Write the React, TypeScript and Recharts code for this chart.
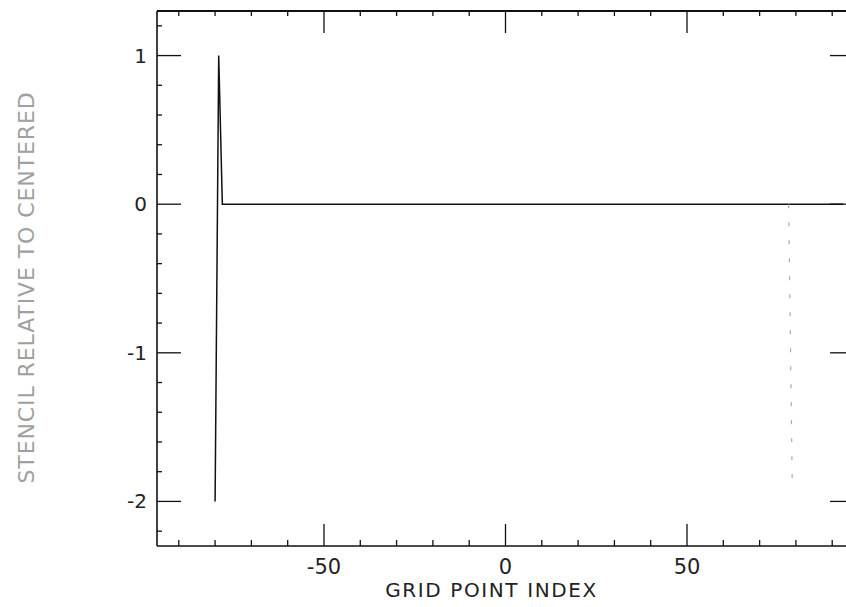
import { LineChart, Line, XAxis, YAxis, Label } from "recharts";

// grid point index vs stencil value (relative to centered)
const stencilIndex = [-80, -79, -78, 93];
const stencilValue = [-2, 1, 0, 0];

// faint down-stroke near the right boundary
const edgeIndex = [78, 79];
const edgeValue = [0, -1.9];

const xTicks = [-90, -80, -70, -60, -50, -40, -30, -20, -10, 0, 10, 20, 30, 40, 50, 60, 70, 80, 90];
const xMajor = [-50, 0, 50];
const yTicks = [-2.2, -2, -1.8, -1.6, -1.4, -1.2, -1, -0.8, -0.6, -0.4, -0.2, 0, 0.2, 0.4, 0.6, 0.8, 1, 1.2];
const yMajor = [-2, -1, 0, 1];
const yDomain = [-2.3, 1.3];

const stencilData = stencilIndex.map((x, i) => ({ x, y: stencilValue[i] }));
const edgeData = edgeIndex.map((x, i) => ({ x, y: edgeValue[i] }));

const INK = "#111";
const FONT = "'DejaVu Sans', sans-serif";

const isMajor = (list: number[], v: number) => list.some((m) => Math.abs(m - v) < 1e-6);

function BottomTick(props: any) {
  const { x, y, payload } = props;
  const major = isMajor(xMajor, payload.value);
  return (
    <g>
      <line x1={x} x2={x} y1={y} y2={y - (major ? 22 : 6)} stroke={INK} strokeWidth={1.3} />
      {major && (
        <text x={x} y={y + 28} textAnchor="middle" fontSize={21} fontFamily={FONT} fill="#222">
          {payload.value}
        </text>
      )}
    </g>
  );
}

function TopTick(props: any) {
  const { x, y, payload } = props;
  const major = isMajor(xMajor, payload.value);
  return <line x1={x} x2={x} y1={y} y2={y + (major ? 22 : 5)} stroke={INK} strokeWidth={1.3} />;
}

function LeftTick(props: any) {
  const { x, y, payload } = props;
  const major = isMajor(yMajor, payload.value);
  return (
    <g>
      <line x1={x} x2={x + (major ? 24 : 5)} y1={y} y2={y} stroke={INK} strokeWidth={1.3} />
      {major && (
        <text x={x - 10} y={y + 7} textAnchor="end" fontSize={20} fontFamily={FONT} fill="#222">
          {payload.value}
        </text>
      )}
    </g>
  );
}

function RightTick(props: any) {
  const { x, y, payload } = props;
  const major = isMajor(yMajor, payload.value);
  return <line x1={x} x2={x - (major ? 24 : 5)} y1={y} y2={y} stroke={INK} strokeWidth={1.3} />;
}

function XTitle(props: any) {
  const { viewBox } = props;
  const cx = viewBox.x + viewBox.width / 2 - 14;
  return (
    <text x={cx} y={viewBox.y + 51} textAnchor="middle" fontSize={20} letterSpacing={1.6} fontFamily={FONT} fill="#222">
      GRID POINT INDEX
    </text>
  );
}

function YTitle(props: any) {
  const { viewBox } = props;
  const cx = viewBox.x + 26;
  const cy = viewBox.y + viewBox.height / 2 + 9;
  return (
    <text
      x={cx}
      y={cy}
      transform={`rotate(-90, ${cx}, ${cy})`}
      textAnchor="middle"
      dominantBaseline="central"
      fontSize={22}
      letterSpacing={0.9}
      fontFamily={FONT}
      fill="#a0a0a0"
    >
      STENCIL RELATIVE TO CENTERED
    </text>
  );
}

export default function App() {
  return (
    <div style={{ position: "absolute", left: 0, top: 0, width: 846, height: 607, overflow: "hidden", background: "#fff" }}>
      <LineChart width={857} height={607} margin={{ top: 9, right: 0, bottom: 0, left: 0 }}>
        <XAxis
          xAxisId="bottom"
          dataKey="x"
          type="number"
          domain={[-96, 96]}
          ticks={xTicks}
          interval={0}
          allowDataOverflow
          height={61}
          tickSize={0}
          tickMargin={0}
          tickLine={false}
          axisLine={{ stroke: INK, strokeWidth: 1.6 }}
          tick={<BottomTick />}
        >
          <Label content={<XTitle />} />
        </XAxis>
        <XAxis
          xAxisId="top"
          orientation="top"
          dataKey="x"
          type="number"
          domain={[-96, 96]}
          ticks={xTicks}
          interval={0}
          allowDataOverflow
          height={2}
          tickSize={0}
          tickMargin={0}
          tickLine={false}
          axisLine={{ stroke: INK, strokeWidth: 1.8 }}
          tick={<TopTick />}
        />
        <YAxis
          yAxisId="left"
          type="number"
          domain={yDomain}
          ticks={yTicks}
          interval={0}
          allowDataOverflow
          width={157}
          tickSize={0}
          tickMargin={0}
          tickLine={false}
          axisLine={{ stroke: INK, strokeWidth: 1.6 }}
          tick={<LeftTick />}
        >
          <Label content={<YTitle />} />
        </YAxis>
        <YAxis
          yAxisId="right"
          orientation="right"
          type="number"
          domain={yDomain}
          ticks={yTicks}
          interval={0}
          allowDataOverflow
          width={3}
          tickSize={0}
          tickMargin={0}
          tickLine={false}
          axisLine={{ stroke: INK, strokeWidth: 1.6 }}
          tick={<RightTick />}
        />
        <Line
          xAxisId="bottom"
          yAxisId="left"
          data={stencilData}
          dataKey="y"
          type="linear"
          stroke={INK}
          strokeWidth={1.5}
          dot={false}
          isAnimationActive={false}
        />
        <Line
          xAxisId="bottom"
          yAxisId="left"
          data={edgeData}
          dataKey="y"
          type="linear"
          stroke="#aaa"
          strokeWidth={1.2}
          strokeDasharray="4 14"
          dot={false}
          isAnimationActive={false}
        />
      </LineChart>
    </div>
  );
}
